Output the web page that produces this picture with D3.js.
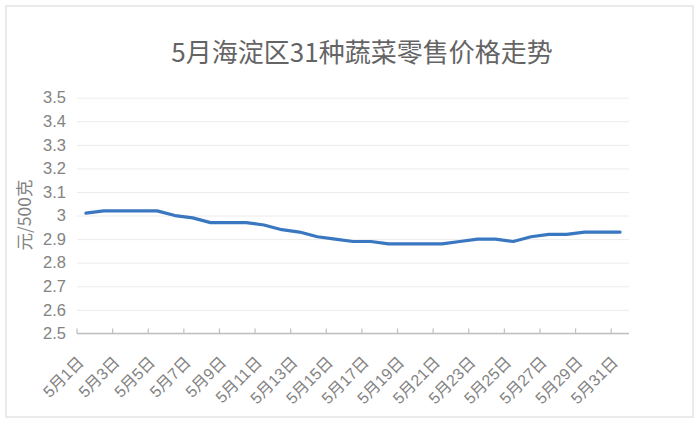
<!DOCTYPE html>
<html><head><meta charset="utf-8">
<script src="https://cdn.jsdelivr.net/npm/d3@7"></script>
<style>body{margin:0;background:#fff}</style>
</head><body>
<svg id="c" width="700" height="425"></svg>
<script>
const titleText = "5月海淀区31种蔬菜零售价格走势";
const yAxisTitle = "元/500克";
const categories = ["5月1日","5月2日","5月3日","5月4日","5月5日","5月6日","5月7日","5月8日","5月9日","5月10日",
  "5月11日","5月12日","5月13日","5月14日","5月15日","5月16日","5月17日","5月18日","5月19日","5月20日",
  "5月21日","5月22日","5月23日","5月24日","5月25日","5月26日","5月27日","5月28日","5月29日","5月30日","5月31日"];
const prices = [3.01,3.02,3.02,3.02,3.02,3.00,2.99,2.97,2.97,2.97,
  2.96,2.94,2.93,2.91,2.90,2.89,2.89,2.88,2.88,2.88,
  2.88,2.89,2.90,2.90,2.89,2.91,2.92,2.92,2.93,2.93,2.93];
const yTicks = [2.5,2.6,2.7,2.8,2.9,3.0,3.1,3.2,3.3,3.4,3.5];
const yTickLabels = ["2.5","2.6","2.7","2.8","2.9","3","3.1","3.2","3.3","3.4","3.5"];

const svg = d3.select("#c");
const font = "'Liberation Sans','Noto Sans CJK SC',sans-serif";
const cjk = "'Noto Sans CJK SC','Liberation Sans',sans-serif";

svg.append("rect").attr("x",6).attr("y",6).attr("width",687).attr("height",411)
  .attr("fill","#fff").attr("stroke","#e4e4e4").attr("stroke-width",1.5);

const x = d3.scaleBand().domain(categories).range([77,629]);
const y = d3.scaleLinear().domain([2.5,3.5]).range([333.4,97.7]);

// gridlines + y labels
const yAxis = d3.axisLeft(y).tickValues(yTicks)
  .tickFormat((d,i)=>yTickLabels[i]).tickSizeInner(-(629-77)).tickSizeOuter(0).tickPadding(11);
const gy = svg.append("g").attr("transform","translate(77,0)").call(yAxis);
gy.select(".domain").remove();
gy.selectAll(".tick line").attr("stroke","#ececec").attr("stroke-width",1);
gy.selectAll(".tick text").attr("fill","#838383").attr("font-size",16.5).attr("font-family",font);

// x axis line
svg.append("line").attr("x1",x.range()[0]).attr("x2",x.range()[1])
  .attr("y1",y(2.5)).attr("y2",y(2.5)).attr("stroke","#bfbfbf").attr("stroke-width",1.5);
// ticks every 2 categories at band edges
const tickCats = categories.filter((d,i)=>i%2===0);
svg.append("g").selectAll("line").data(tickCats).join("line")
  .attr("x1",d=>x(d)).attr("x2",d=>x(d))
  .attr("y1",y(2.5)).attr("y2",y(2.5)-5)
  .attr("stroke","#bfbfbf").attr("stroke-width",1.2);
// labels
svg.append("g").selectAll("text").data(tickCats).join("text")
  .attr("transform",d=>`translate(${x(d)+x.bandwidth()/2-1},${y(2.5)+30}) rotate(-45)`)
  .attr("text-anchor","end")
  .attr("font-size",16).attr("font-family",font).attr("fill","#838383")
  .text(d=>d);

// line
const line = d3.line().x((d,i)=>x(categories[i])+x.bandwidth()/2).y(d=>y(d));
svg.append("path").datum(prices).attr("d",line)
  .attr("fill","none").attr("stroke","#3a77c1").attr("stroke-width",3.2)
  .attr("stroke-linejoin","round").attr("stroke-linecap","round");

// title
svg.append("text").attr("x",362).attr("y",62).attr("text-anchor","middle")
  .attr("font-size",26).attr("font-family",cjk).attr("fill","#646464").text(titleText);

// y axis title
svg.append("text").attr("transform","translate(31,215) rotate(-90)").attr("text-anchor","middle")
  .attr("font-size",17.5).attr("font-family",cjk).attr("fill","#838383").text(yAxisTitle);
</script>
</body></html>
